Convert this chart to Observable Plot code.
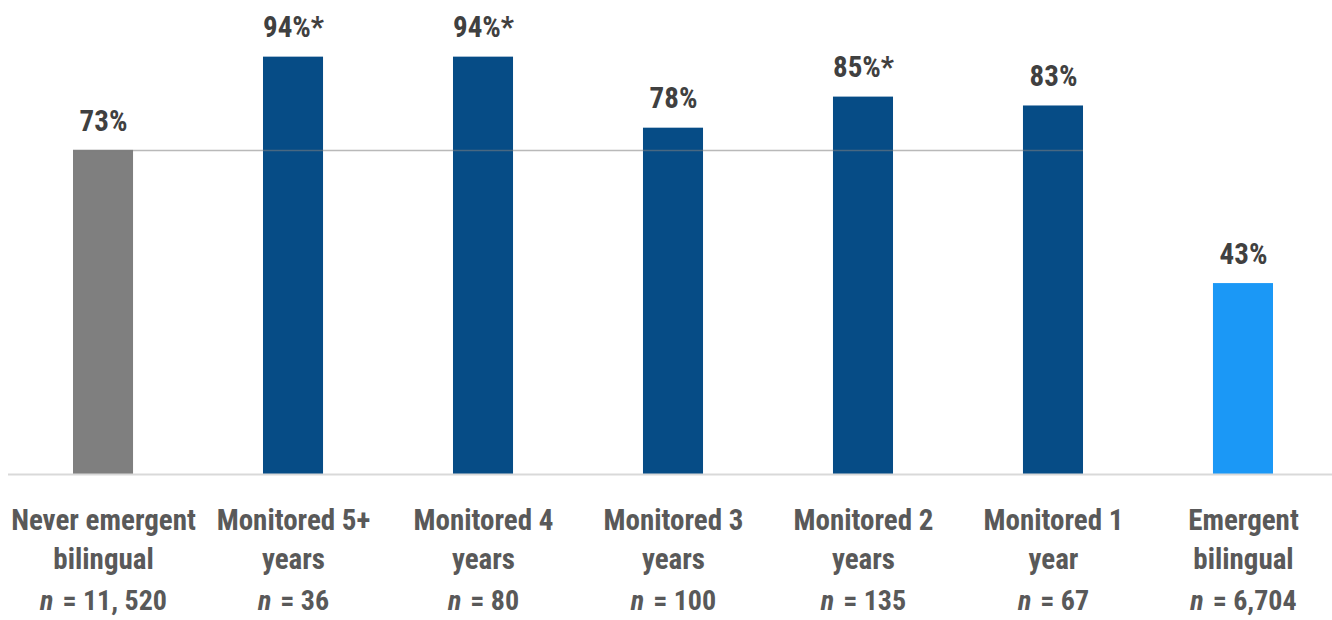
<!DOCTYPE html>
<html>
<head>
<meta charset="utf-8">
<script src="https://cdn.jsdelivr.net/npm/d3@7"></script>
<script src="https://cdn.jsdelivr.net/npm/@observablehq/plot@0.6"></script>
<style>
  html, body { margin: 0; padding: 0; background: #fff; }
  #chart svg { display: block; }
</style>
</head>
<body>
<div id="chart"></div>
<script>
const categories = [
  "Never emergent bilingual",
  "Monitored 5+ years",
  "Monitored 4 years",
  "Monitored 3 years",
  "Monitored 2 years",
  "Monitored 1 year",
  "Emergent bilingual"
];
const labelLines = [
  "Never emergent\nbilingual",
  "Monitored 5+\nyears",
  "Monitored 4\nyears",
  "Monitored 3\nyears",
  "Monitored 2\nyears",
  "Monitored 1\nyear",
  "Emergent\nbilingual"
];
const values = [73, 94, 94, 78, 85, 83, 43];
const valueLabels = ["73%", "94%*", "94%*", "78%", "85%*", "83%", "43%"];
const nCounts = ["11, 520", "36", "80", "100", "135", "67", "6,704"];
const groups = ["never", "monitored", "monitored", "monitored", "monitored", "monitored", "emergent"];
const referenceValue = 73;

const data = categories.map((c, i) => ({
  category: c, value: values[i], label: valueLabels[i], n: nCounts[i], group: groups[i]
}));

const font = "'Roboto Condensed', 'Liberation Sans Narrow', 'DejaVu Sans Condensed', 'Arial Narrow', sans-serif";

const chart = Plot.plot({
  width: 1332,
  height: 620,
  marginTop: 30,
  marginBottom: 146,
  marginLeft: 8,
  marginRight: 0,
  style: { fontFamily: font, background: "#fff" },
  x: { domain: categories, range: [16, 1330], paddingInner: 0.684, paddingOuter: 0.3, round: false, label: null },
  y: { domain: [0, 100], axis: null },
  color: { domain: ["never", "monitored", "emergent"], range: ["#7f7f7f", "#064c86", "#1b98f6"] },
  marks: [
    Plot.barY(data, { x: "category", y: "value", fill: "group" }),
    Plot.ruleY([0], { stroke: "#d9d9d9", strokeWidth: 2 }),
    Plot.ruleY([referenceValue], {
      x1: () => categories[0], x2: () => categories[5],
      stroke: "#808080", strokeOpacity: 0.55, strokeWidth: 1.5
    }),
    Plot.text(data, {
      x: "category", y: "value", text: "label", dy: -29, lineAnchor: "middle",
      fontSize: 29, fontWeight: "bold", fill: "#404040"
    }),
    Plot.axisX({
      tickSize: 0, tickPadding: 28, fontSize: 29, fontWeight: "bold", color: "#595959",
      lineHeight: 1.34, tickFormat: (d) => labelLines[categories.indexOf(d)]
    }),
    Plot.text(data, {
      x: "category", frameAnchor: "bottom", dy: 127, text: (d) => "n = " + d.n, lineAnchor: "middle",
      fontSize: 28, fontWeight: "bold", fill: "#595959", className: "nlabel"
    })
  ]
});

document.getElementById("chart").appendChild(chart);

d3.select(chart).selectAll(".nlabel text").each(function(d, i) {
  const t = d3.select(this);
  const s = t.text();
  const rest = s.replace(/^n /, "");
  t.text(null);
  t.append("tspan").attr("font-style", "italic").text("n");
  t.append("tspan").attr("dx", 9).text(rest);
});
</script>
</body>
</html>
